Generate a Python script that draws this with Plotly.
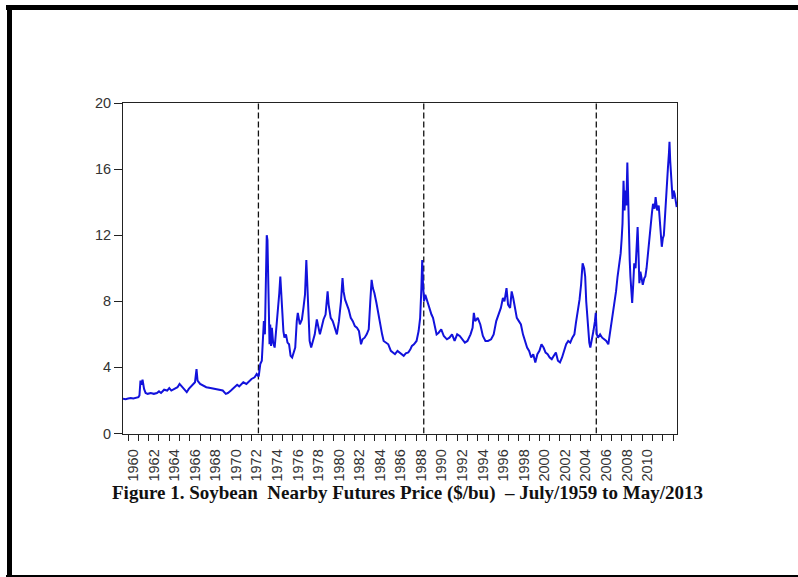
import plotly.graph_objects as go

W, H = 798, 577

years = [
    1959.50, 1959.75, 1960.00, 1960.25, 1960.50, 1960.75, 1961.00, 1961.10, 1961.20, 1961.30,
    1961.40, 1961.55, 1961.70, 1961.90, 1962.20, 1962.50, 1962.80, 1963.00, 1963.20, 1963.50,
    1963.80, 1964.00, 1964.20, 1964.50, 1964.80, 1965.00, 1965.20, 1965.40, 1965.70, 1965.90,
    1966.20, 1966.50, 1966.65, 1966.75, 1967.00, 1967.30, 1967.60, 1968.00, 1968.40, 1968.80,
    1969.20, 1969.50, 1969.70, 1970.00, 1970.30, 1970.60, 1970.80, 1971.20, 1971.50, 1971.80,
    1972.00, 1972.30, 1972.50, 1972.70, 1972.85, 1973.00, 1973.10, 1973.20, 1973.30, 1973.40,
    1973.48, 1973.55, 1973.62, 1973.68, 1973.75, 1973.82, 1973.90, 1973.98, 1974.10, 1974.25,
    1974.40, 1974.55, 1974.70, 1974.80, 1974.90, 1975.00, 1975.10, 1975.20, 1975.35, 1975.50,
    1975.65, 1975.80, 1975.95, 1976.10, 1976.25, 1976.40, 1976.50, 1976.70, 1976.90, 1977.05,
    1977.20, 1977.33, 1977.42, 1977.55, 1977.65, 1977.80, 1977.95, 1978.15, 1978.35, 1978.50,
    1978.65, 1978.85, 1979.00, 1979.20, 1979.40, 1979.50, 1979.70, 1979.90, 1980.10, 1980.30,
    1980.50, 1980.70, 1980.85, 1980.95, 1981.10, 1981.30, 1981.45, 1981.65, 1981.85, 1982.05,
    1982.25, 1982.45, 1982.65, 1982.80, 1983.00, 1983.20, 1983.40, 1983.55, 1983.68, 1983.80,
    1983.95, 1984.15, 1984.35, 1984.50, 1984.70, 1984.85, 1985.05, 1985.30, 1985.55, 1985.80,
    1985.95, 1986.20, 1986.40, 1986.60, 1986.80, 1987.00, 1987.25, 1987.45, 1987.60, 1987.80,
    1988.05, 1988.25, 1988.40, 1988.52, 1988.60, 1988.68, 1988.78, 1988.90, 1989.00, 1989.15,
    1989.30, 1989.50, 1989.65, 1989.85, 1990.00, 1990.20, 1990.45, 1990.70, 1991.00, 1991.25,
    1991.50, 1991.75, 1992.00, 1992.25, 1992.50, 1992.75, 1993.00, 1993.30, 1993.50, 1993.62,
    1993.75, 1994.00, 1994.25, 1994.50, 1994.75, 1995.00, 1995.30, 1995.55, 1995.80, 1996.00,
    1996.25, 1996.45, 1996.60, 1996.80, 1996.95, 1997.15, 1997.30, 1997.45, 1997.60, 1997.80,
    1998.00, 1998.20, 1998.40, 1998.60, 1998.80, 1999.00, 1999.20, 1999.40, 1999.60, 1999.80,
    2000.00, 2000.20, 2000.40, 2000.60, 2000.80, 2001.00, 2001.20, 2001.40, 2001.60, 2001.80,
    2002.00, 2002.20, 2002.40, 2002.60, 2002.80, 2003.00, 2003.20, 2003.40, 2003.55, 2003.75,
    2003.90, 2004.05, 2004.20, 2004.35, 2004.45, 2004.55, 2004.65, 2004.75, 2004.85, 2004.95,
    2005.10, 2005.25, 2005.40, 2005.48, 2005.58, 2005.70, 2005.90, 2006.10, 2006.30, 2006.50,
    2006.70, 2006.85, 2007.00, 2007.15, 2007.30, 2007.45, 2007.60, 2007.75, 2007.90, 2008.00,
    2008.08, 2008.18, 2008.28, 2008.36, 2008.45, 2008.55, 2008.62, 2008.70, 2008.78, 2008.85,
    2008.95, 2009.02, 2009.12, 2009.22, 2009.35, 2009.45, 2009.55, 2009.62, 2009.72, 2009.82,
    2009.92, 2010.05, 2010.20, 2010.30, 2010.42, 2010.52, 2010.65, 2010.80, 2010.95, 2011.05,
    2011.20, 2011.30, 2011.45, 2011.60, 2011.75, 2011.90, 2012.00, 2012.10, 2012.20, 2012.30,
    2012.42, 2012.50, 2012.60, 2012.65, 2012.72, 2012.80, 2012.90, 2012.95, 2013.05, 2013.15,
    2013.25, 2013.35,
]

price = [
    2.10, 2.08, 2.12, 2.15, 2.12, 2.15, 2.20, 2.30, 3.20, 2.95,
    3.25, 2.70, 2.45, 2.40, 2.45, 2.40, 2.45, 2.55, 2.45, 2.65,
    2.60, 2.75, 2.60, 2.70, 2.80, 3.00, 2.85, 2.70, 2.50, 2.70,
    2.90, 3.10, 3.90, 3.20, 3.00, 2.90, 2.80, 2.75, 2.70, 2.65,
    2.60, 2.40, 2.45, 2.60, 2.80, 2.95, 2.85, 3.10, 3.00, 3.20,
    3.30, 3.40, 3.60, 3.45, 4.20, 4.40, 6.00, 6.80, 6.00, 8.50,
    12.00, 11.70, 9.00, 6.50, 5.40, 6.60, 5.30, 6.40, 5.50, 5.20,
    6.20, 7.60, 8.50, 9.50, 8.00, 7.30, 6.20, 5.80, 6.00, 5.50,
    5.40, 4.70, 4.60, 4.90, 5.20, 6.80, 7.30, 6.60, 6.90, 7.60,
    8.40, 10.50, 9.20, 7.50, 5.60, 5.20, 5.50, 6.00, 6.90, 6.40,
    6.00, 6.50, 6.90, 7.20, 8.60, 7.80, 7.00, 6.80, 6.40, 6.00,
    6.80, 8.00, 9.40, 8.60, 8.10, 7.80, 7.50, 7.00, 6.80, 6.50,
    6.40, 6.20, 5.40, 5.70, 5.80, 6.00, 6.30, 8.00, 9.30, 8.80,
    8.50, 7.90, 7.20, 6.50, 6.00, 5.60, 5.50, 5.40, 5.00, 4.90,
    4.80, 5.00, 4.90, 4.80, 4.70, 4.85, 4.90, 5.10, 5.30, 5.40,
    5.60, 6.20, 7.00, 8.80, 10.50, 9.00, 8.00, 8.40, 8.20, 7.80,
    7.60, 7.20, 7.00, 6.40, 6.00, 6.10, 6.30, 5.90, 5.70, 5.80,
    6.00, 5.60, 6.00, 5.90, 5.70, 5.50, 5.60, 6.00, 6.40, 7.30,
    6.80, 7.00, 6.60, 5.90, 5.60, 5.60, 5.70, 6.00, 6.80, 7.20,
    7.60, 8.20, 8.00, 8.80, 7.80, 7.60, 8.60, 8.20, 7.60, 7.00,
    6.80, 6.60, 6.00, 5.60, 5.20, 5.00, 4.60, 4.80, 4.30, 4.80,
    5.00, 5.40, 5.20, 4.90, 4.80, 4.60, 4.50, 4.70, 4.90, 4.40,
    4.30, 4.60, 5.00, 5.40, 5.60, 5.50, 5.80, 6.00, 6.70, 7.50,
    8.10, 9.00, 10.30, 10.00, 9.50, 8.00, 7.00, 5.80, 5.50, 5.20,
    5.60, 6.20, 6.80, 7.30, 6.00, 5.80, 6.00, 5.80, 5.70, 5.60,
    5.40, 6.00, 6.80, 7.40, 7.90, 8.60, 9.50, 10.20, 10.90, 11.80,
    12.70, 15.30, 13.50, 14.70, 13.80, 16.40, 14.00, 12.30, 10.50, 9.50,
    8.20, 7.90, 9.00, 10.30, 10.00, 11.00, 12.50, 11.20, 9.10, 9.80,
    9.40, 9.00, 9.40, 9.50, 10.00, 10.70, 11.50, 12.70, 13.40, 13.90,
    13.60, 14.30, 13.50, 13.80, 12.50, 11.30, 11.80, 12.00, 13.00, 14.30,
    15.00, 16.10, 17.00, 17.65, 16.50, 15.30, 14.70, 14.20, 14.70, 14.50,
    14.00, 13.70,
]

break_dates = [1972.67, 1988.75, 2005.53]

tick_years = list(range(1960, 2012, 2))
tick_labels = [str(y) for y in tick_years]
y_ticks = [0, 4, 8, 12, 16, 20]

caption = "Figure 1. Soybean  Nearby Futures Price ($/bu)  – July/1959 to May/2013"

fig = go.Figure()

for bd in break_dates:
    fig.add_trace(go.Scatter(
        x=[bd, bd], y=[0, 20], mode="lines",
        line=dict(color="#111111", width=1.3, dash="6px,3px"),
        showlegend=False, hoverinfo="skip",
    ))

fig.add_trace(go.Scatter(
    x=years, y=price, mode="lines",
    line=dict(color="#1212dc", width=2),
    showlegend=False,
))

def px_x(p):
    return p / W

def px_y(p):
    return 1 - p / H

fig.update_layout(
    width=W, height=H,
    margin=dict(l=0, r=0, t=0, b=0, autoexpand=False),
    showlegend=False,
    paper_bgcolor="white", plot_bgcolor="white",
    font=dict(family="Arial, Liberation Sans, sans-serif", size=12, color="#333333"),
    xaxis=dict(
        domain=[px_x(123), px_x(677)],
        range=[1959.5, 2013.38],
        tickmode="array",
        tickvals=[y + 0.5 for y in tick_years],
        ticktext=tick_labels,
        tickangle=-90,
        ticks="",
        ticklabelstandoff=9,
        tickfont=dict(size=14.5, color="#333333"),
        showgrid=False, zeroline=False, automargin=False,
        showline=True, linecolor="#222222", linewidth=1, mirror=True,
        minor=dict(tick0=1960, dtick=1, ticks="outside", ticklen=6,
                   tickcolor="#222222", tickwidth=1, showgrid=False),
    ),
    yaxis=dict(
        domain=[px_y(433.5), px_y(103)],
        range=[0, 20],
        tickmode="array",
        tickvals=y_ticks,
        ticks="outside", ticklen=8, tickcolor="#222222",
        tickfont=dict(size=14.5, color="#333333"),
        showgrid=False, zeroline=False, automargin=False,
        showline=True, linecolor="#222222", linewidth=1, mirror=True,
    ),
    shapes=[
        dict(type="rect", xref="paper", yref="paper",
             x0=px_x(6), x1=px_x(798), y0=px_y(10), y1=px_y(5),
             fillcolor="black", line=dict(width=0)),
        dict(type="rect", xref="paper", yref="paper",
             x0=px_x(7), x1=px_x(12), y0=px_y(577), y1=px_y(5),
             fillcolor="black", line=dict(width=0)),
        dict(type="rect", xref="paper", yref="paper",
             x0=px_x(6), x1=px_x(798), y0=px_y(577), y1=px_y(575),
             fillcolor="black", line=dict(width=0)),
    ],
    annotations=[
        dict(text="<b>" + caption + "</b>", xref="paper", yref="paper",
             x=px_x(407), y=px_y(493), showarrow=False,
             xanchor="center", yanchor="middle",
             font=dict(family="Liberation Serif, Times New Roman, serif",
                       size=19, color="#111111")),
    ],
)

fig.write_html("out.html")
